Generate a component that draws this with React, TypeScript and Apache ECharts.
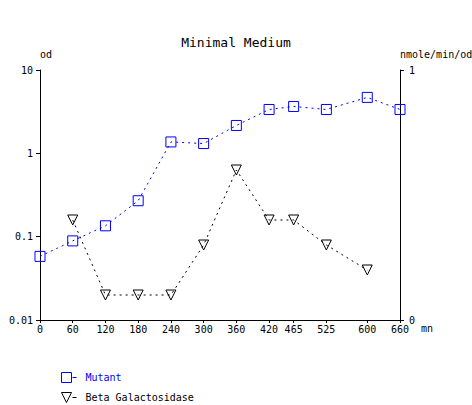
import React, { useEffect, useRef } from "react";
import * as echarts from "echarts";

const TITLE = "Minimal Medium";
const X_TICKS = [0, 60, 120, 180, 240, 300, 360, 420, 465, 525, 600, 660];
const MUTANT_X = [0, 60, 120, 180, 240, 300, 360, 420, 465, 525, 600, 660];
const MUTANT_OD = [0.058, 0.089, 0.135, 0.27, 1.37, 1.31, 2.16, 3.36, 3.65, 3.36, 4.69, 3.36];
const BETA_X = [60, 120, 180, 240, 300, 360, 420, 465, 525, 600];
const BETA_ACT = [0.4, 0.1, 0.1, 0.1, 0.3, 0.6, 0.4, 0.4, 0.3, 0.2];

const FONT = "DejaVu Sans Mono";

export default function App() {
  const ref = useRef<HTMLDivElement>(null);
  useEffect(() => {
    if (!ref.current) return;
    const chart = echarts.init(ref.current, null, { renderer: "svg" });
    const lbl = { fontFamily: FONT, fontSize: 10, color: "#000" };
    chart.setOption({
      animation: false,
      backgroundColor: "#fff",
      title: {
        text: TITLE,
        left: "center",
        top: 31,
        textStyle: { fontFamily: FONT, fontSize: 13, fontWeight: "normal", color: "#000" },
      },
      grid: { left: 40, right: 72, top: 70, bottom: 85, outerBoundsMode: "none", containLabel: false },
      legend: {
        orient: "vertical",
        left: 61,
        top: 372,
        height: 40,
        padding: 0,
        itemGap: 9,
        itemWidth: 15,
        itemHeight: 10,
        textStyle: { ...lbl, padding: [0, 0, 0, 4] },
        data: [
          {
            name: "Mutant",
            icon: "path://M0,0H10V10H0Z M11,5H15",
            itemStyle: { color: "transparent", borderColor: "#0000ff", borderWidth: 1 },
            textStyle: { color: "#0000ff" },
          },
          {
            name: "Beta Galactosidase",
            icon: "path://M0,0H10L5,10Z M11,5H15",
            itemStyle: { color: "transparent", borderColor: "#000", borderWidth: 1 },
            textStyle: { color: "#000" },
          },
        ],
      },
      xAxis: {
        type: "value",
        min: 0,
        max: 660,
        name: "mn",
        nameLocation: "end",
        nameGap: 20,
        nameTextStyle: { ...lbl, align: "left", verticalAlign: "top", padding: [3, 0, 0, 0] },
        splitLine: { show: false },
        axisLine: { lineStyle: { color: "#000", width: 1 } },
        axisTick: { customValues: X_TICKS, length: 3, lineStyle: { color: "#000" } },
        axisLabel: { customValues: X_TICKS, margin: 4, ...lbl },
      },
      yAxis: [
        {
          type: "log",
          logBase: 10,
          min: 0.01,
          max: 10,
          position: "left",
          name: "od",
          nameLocation: "end",
          nameGap: 11,
          nameTextStyle: { ...lbl, align: "left" },
          splitLine: { show: false },
          minorTick: { show: false },
          axisLine: { show: true, lineStyle: { color: "#000", width: 1 } },
          axisTick: { show: true, length: 4, lineStyle: { color: "#000" } },
          axisLabel: {
            margin: 7,
            ...lbl,
            formatter: (v: number) => String(Number(v.toPrecision(1))),
          },
        },
        {
          type: "value",
          min: 0,
          max: 1,
          interval: 1,
          position: "right",
          name: "nmole/min/od",
          nameLocation: "end",
          nameGap: 11,
          nameTextStyle: { ...lbl, align: "left", padding: [0, 0, 0, 0] },
          splitLine: { show: false },
          axisLine: { show: true, lineStyle: { color: "#000", width: 1 } },
          axisTick: { show: true, length: 4, lineStyle: { color: "#000" } },
          axisLabel: { margin: 9, ...lbl },
        },
      ],
      series: [
        {
          name: "Mutant",
          type: "line",
          yAxisIndex: 0,
          data: MUTANT_X.map((x, i) => [x, MUTANT_OD[i]]),
          symbol: "rect",
          symbolSize: 10,
          itemStyle: { color: "transparent", borderColor: "#0000ff", borderWidth: 1 },
          lineStyle: { color: "#0000ff", width: 1, type: [2, 4] },
          z: 3,
        },
        {
          name: "Beta Galactosidase",
          type: "line",
          yAxisIndex: 1,
          data: BETA_X.map((x, i) => [x, BETA_ACT[i]]),
          symbol: "path://M0,0H10L5,10Z",
          symbolSize: 10,
          itemStyle: { color: "transparent", borderColor: "#000", borderWidth: 1 },
          lineStyle: { color: "#000", width: 1, type: [2, 4] },
          z: 2,
        },
      ],
    });
    return () => chart.dispose();
  }, []);
  return (
    <div
      ref={ref}
      style={{ position: "fixed", left: 0, top: 0, width: 472, height: 405, background: "#fff" }}
    />
  );
}
